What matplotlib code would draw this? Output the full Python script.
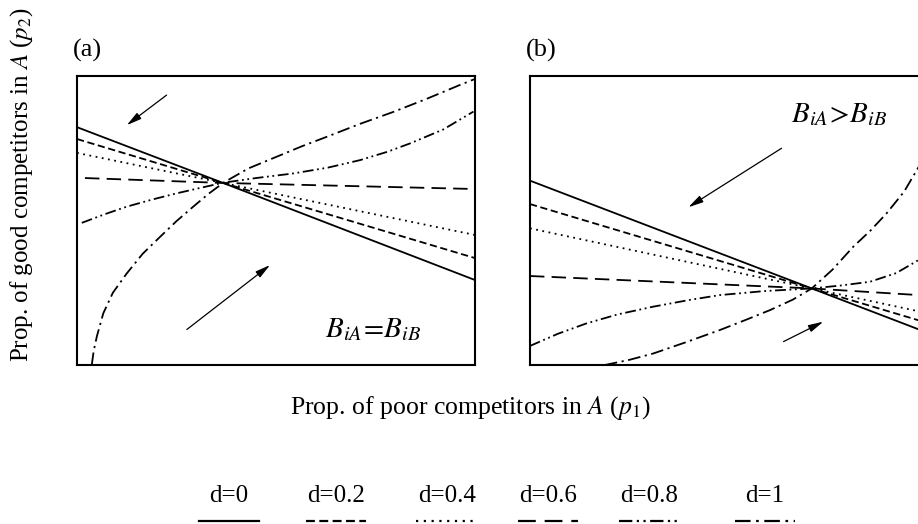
import matplotlib
matplotlib.use("Agg")
import matplotlib.pyplot as plt
from matplotlib.lines import Line2D

plt.rcParams['font.family'] = ['Liberation Serif', 'DejaVu Serif']
plt.rcParams['mathtext.fontset'] = 'stix'

# values, axes scaled 0..1
d_labels = ["d=0", "d=0.2", "d=0.4", "d=0.6", "d=0.8", "d=1"]

# panel (a): B_iA = B_iB
a_x = [
    [0.0, 0.367, 1.0],
    [0.0, 0.367, 1.0],
    [0.0, 0.367, 1.0],
    [0.02, 0.367, 1.0],
    [0.012, 0.07, 0.125, 0.19, 0.25, 0.31, 0.368, 0.45, 0.544, 0.63, 0.711, 0.78, 0.837, 0.92, 0.996],
    [0.037, 0.042, 0.05, 0.066, 0.09, 0.125, 0.165, 0.209, 0.25, 0.292, 0.33, 0.368, 0.43, 0.502,
     0.565, 0.628, 0.71, 0.795, 0.88, 0.96, 1.0],
]
a_y = [
    [0.823, 0.630, 0.294],
    [0.782, 0.630, 0.370],
    [0.734, 0.630, 0.450],
    [0.647, 0.630, 0.609],
    [0.492, 0.522, 0.548, 0.573, 0.594, 0.613, 0.631, 0.647, 0.663, 0.683, 0.709, 0.738, 0.767, 0.815, 0.877],
    [0.0, 0.05, 0.10, 0.179, 0.25, 0.317, 0.385, 0.444, 0.498, 0.548, 0.592, 0.631, 0.68, 0.721,
     0.757, 0.790, 0.834, 0.876, 0.922, 0.968, 0.99],
]

# panel (b): B_iA > B_iB
b_x = [
    [0.0, 0.708, 1.0],
    [0.0, 0.708, 1.0],
    [0.0, 0.708, 1.0],
    [0.0, 0.708, 1.0],
    [0.0, 0.07, 0.142, 0.22, 0.31, 0.40, 0.477, 0.59, 0.708, 0.78, 0.854, 0.92, 0.976, 1.0],
    [0.188, 0.25, 0.31, 0.39, 0.477, 0.54, 0.603, 0.66, 0.708, 0.76, 0.812, 0.856, 0.896, 0.94, 0.972, 1.0],
]
b_y = [
    [0.638, 0.265, 0.111],
    [0.557, 0.265, 0.145],
    [0.473, 0.265, 0.179],
    [0.308, 0.265, 0.240],
    [0.066, 0.108, 0.144, 0.175, 0.202, 0.225, 0.242, 0.256, 0.265, 0.275, 0.288, 0.318, 0.363, 0.38],
    [0.0, 0.018, 0.040, 0.078, 0.121, 0.155, 0.190, 0.226, 0.265, 0.33, 0.409, 0.466, 0.525, 0.60, 0.675, 0.74],
]

styles = [
    dict(linestyle='-'),
    dict(dashes=(4, 2)),
    dict(dashes=(1, 2.5)),
    dict(dashes=(8, 4)),
    dict(dashes=(6, 2, 1, 2, 1, 2)),
    dict(dashes=(7, 2.5, 1.2, 2.5)),
]

# arrows: (tail, head)
a_arrows = [((0.225, 0.934), (0.125, 0.830)), ((0.276, 0.123), (0.485, 0.346))]
b_arrows = [((0.632, 0.750), (0.398, 0.546)), ((0.637, 0.081), (0.737, 0.150))]

fig = plt.figure(figsize=(9.18, 5.24), dpi=100)
ax_a = fig.add_axes([0.0839, 0.3034, 0.4336, 0.5515])
ax_b = fig.add_axes([0.5773, 0.3034, 0.4336, 0.5515])

panels = [(ax_a, a_x, a_y, a_arrows, "(a)", r"$B_{iA}\!=\!B_{iB}$", (0.745, 0.121)),
          (ax_b, b_x, b_y, b_arrows, "(b)", r"$B_{iA}\!>\!B_{iB}$", (0.776, 0.865))]

for ax, xs, ys, arrows, tag, note, note_pos in panels:
    for x, y, st in zip(xs, ys, styles):
        ax.plot(x, y, color='black', lw=1.3, **st)
    for tail, head in arrows:
        ax.annotate("", xy=head, xytext=tail,
                    arrowprops=dict(arrowstyle='-|>,head_length=0.9,head_width=0.22',
                                    color='black', lw=0.9, shrinkA=0, shrinkB=0))
    ax.text(*note_pos, note, fontsize=21, ha='center', va='center', transform=ax.transAxes)
    ax.text(-0.01, 1.09, tag, fontsize=19, ha='left', va='center', transform=ax.transAxes)
    ax.set_xlim(0, 1)
    ax.set_ylim(0, 1)
    ax.set_xticks([])
    ax.set_yticks([])
    for sp in ax.spines.values():
        sp.set_linewidth(1.5)

fig.text(0.512, 0.221, r"Prop. of poor competitors in $A$ ($p_1$)", fontsize=18.5, ha='center', va='center')
fig.text(0.023, 0.648, r"Prop. of good competitors in $A$ ($p_2$)", fontsize=18,
         ha='center', va='center', rotation=90)

# legend row: labels above short line samples
leg_x = [0.2495, 0.366, 0.4865, 0.597, 0.707, 0.8335]
for lx, lab, st in zip(leg_x, d_labels, styles):
    fig.text(lx, 0.053, lab, fontsize=18, ha='center', va='center')
    fig.add_artist(Line2D([lx - 0.033, lx + 0.033], [0.006, 0.006], color='black', lw=1.6,
                          transform=fig.transFigure, **st))

fig.savefig("out.png", dpi=100)
